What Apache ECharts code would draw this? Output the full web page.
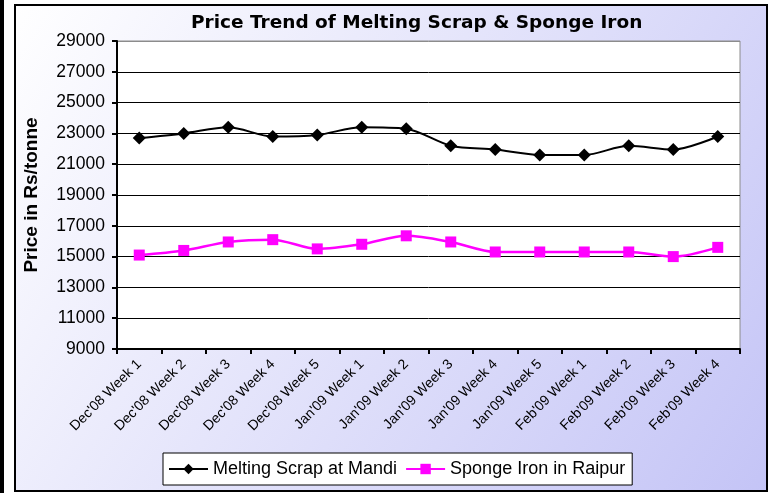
<!DOCTYPE html>
<html>
<head>
<meta charset="utf-8">
<script src="https://cdn.jsdelivr.net/npm/echarts@6/dist/echarts.min.js"></script>
<style>
html,body{margin:0;padding:0;background:#fff;}
#main{width:775px;height:493px;}
</style>
</head>
<body>
<div id="main"></div>
<script>
var categories = ["Dec'08 Week 1","Dec'08 Week 2","Dec'08 Week 3","Dec'08 Week 4","Dec'08 Week 5",
  "Jan'09 Week 1","Jan'09 Week 2","Jan'09 Week 3","Jan'09 Week 4","Jan'09 Week 5",
  "Feb'09 Week 1","Feb'09 Week 2","Feb'09 Week 3","Feb'09 Week 4"];
var meltingScrap = [22700,23000,23400,22800,22900,23400,23300,22200,21950,21600,21600,22200,21950,22800];
var spongeIron = [15100,15400,15950,16100,15500,15800,16350,15950,15300,15300,15300,15300,15000,15600];
var seriesNames = ["Melting Scrap at Mandi","Sponge Iron in Raipur"];
var chartTitle = "Price Trend of Melting Scrap & Sponge Iron";
var yAxisTitle = "Price in Rs/tonne";

var chart = echarts.init(document.getElementById('main'), null, {renderer:'canvas'});
var splitColors = [];
for (var i = 0; i < 10; i++) splitColors.push('#000');
splitColors.push('#8c8c8c');

chart.setOption({
  animation:false,
  graphic:[
    {type:'rect', z:-10, shape:{x:0,y:0,width:4,height:493}, style:{fill:'#000'}},
    {type:'rect', z:-10, shape:{x:15,y:5,width:752,height:486},
      style:{fill:new echarts.graphic.LinearGradient(0,0,1,1,[{offset:0,color:'#ffffff'},{offset:1,color:'#c4c4f6'}]),
             stroke:'#000', lineWidth:2}}
  ],
  title:{text:chartTitle, left:191, top:14, padding:0,
    textStyle:{fontFamily:'DejaVu Sans', fontWeight:'bold', fontSize:18.5, color:'#000'}},
  grid:{left:117, top:41, right:35, bottom:144, show:true, backgroundColor:'#fff', borderColor:'#8c8c8c', borderWidth:1, containLabel:false},
  legend:{data:seriesNames, left:163, top:453, backgroundColor:'#fff', borderColor:'#000', borderWidth:1,
    padding:[7,7,7,5], itemWidth:39, itemHeight:13, itemGap:8,
    textStyle:{fontFamily:'Liberation Sans', fontSize:18, color:'#000'}},
  xAxis:{type:'category', data:categories, boundaryGap:true,
    axisLine:{lineStyle:{color:'#000', width:2}},
    axisTick:{show:true, length:5, interval:0, lineStyle:{color:'#000', width:2}},
    axisLabel:{interval:0, rotate:45, fontFamily:'Liberation Sans', fontSize:14, color:'#000', margin:13},
    splitLine:{show:false}},
  yAxis:{type:'value', min:9000, max:29000, interval:2000,
    name:yAxisTitle, nameLocation:'middle', nameGap:76, nameRotate:90,
    nameTextStyle:{fontFamily:'Liberation Sans', fontWeight:'bold', fontSize:19, color:'#000'},
    axisLine:{show:true, lineStyle:{color:'#000', width:2}},
    axisTick:{show:true, length:5, lineStyle:{color:'#000', width:2}},
    axisLabel:{fontFamily:'Liberation Sans', fontSize:17.5, color:'#000', margin:12,
      formatter:function(v){return String(v);}},
    splitLine:{show:true, lineStyle:{color:splitColors, width:1}}},
  series:[
    {name:seriesNames[0], type:'line', data:meltingScrap, smooth:0.3, symbol:'diamond', symbolSize:13,
      itemStyle:{color:'#000'}, lineStyle:{color:'#000', width:2}},
    {name:seriesNames[1], type:'line', data:spongeIron, smooth:0.3, symbol:'rect', symbolSize:11,
      itemStyle:{color:'#ff00ff'}, lineStyle:{color:'#ff00ff', width:2.5}}
  ]
});
</script>
</body>
</html>
